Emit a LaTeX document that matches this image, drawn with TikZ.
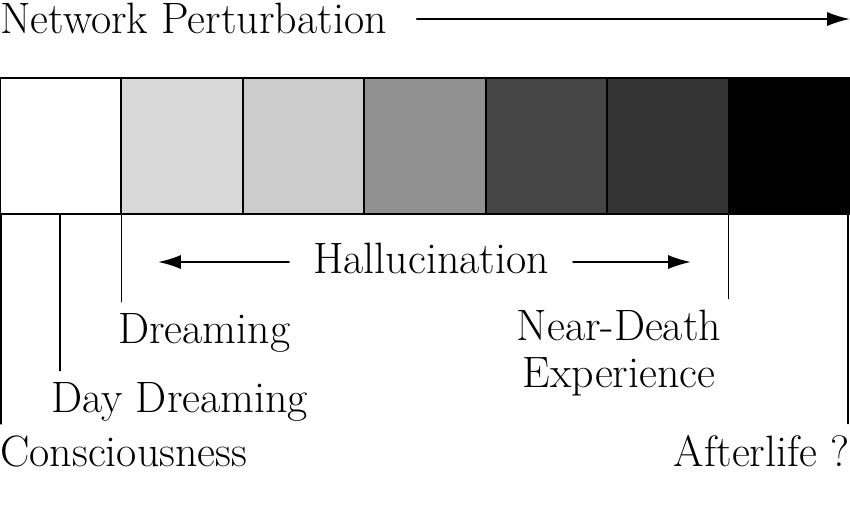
\documentclass[tikz,border=0pt]{standalone}
\usetikzlibrary{arrows.meta}
\definecolor{shadeA}{gray}{0.85}
\definecolor{shadeB}{gray}{0.80}
\definecolor{shadeC}{gray}{0.57}
\definecolor{shadeD}{gray}{0.27}
\definecolor{shadeE}{gray}{0.20}
\begin{document}
\begin{tikzpicture}[x=0.02cm, y=-0.02cm, line join=round, line cap=round,
    lbl/.style={inner sep=0pt, font=\fontsize{25}{26.6}\selectfont},
    arr/.style={line width=1.1pt, -{Latex[length=13pt, width=8pt]}},
    lead/.style={line width=0.8pt, shorten >=0.22cm}]
  \useasboundingbox (0,0) rectangle (850,512);
  \def\W{121.43}
  % shaded states
  \foreach \s [count=\i from 0] in {white, shadeA, shadeB, shadeC, shadeD, shadeE, black}
    \filldraw[fill=\s, line width=1.1pt] (\i*\W,78) rectangle ++(\W,136);
  \coordinate (k0) at (1,214); \coordinate (k1) at (60,214); \coordinate (k2) at (\W,214);
  \coordinate (k6) at (6*\W,214); \coordinate (k7) at (848,214);
  \coordinate (pend) at (850,19);
  \coordinate (hl) at (158,262); \coordinate (hr) at (691,262);
  % labels
  \node[lbl, anchor=base west] (netp) at (0,33) {Network Perturbation};
  \node[lbl, anchor=base] (hall) at (431,273) {Hallucination};
  \node[lbl, anchor=base west] (dream) at (118,343) {Dreaming};
  \node[lbl, anchor=base west] (daydr) at (51,412) {Day Dreaming};
  \node[lbl, anchor=base west] (cons) at (0,466) {Consciousness};
  \node[lbl, anchor=base, align=center] (neard) at (619,387) {Near-Death\\Experience};
  \node[lbl, anchor=base east] (after) at (850,466) {Afterlife ?};
  % arrows
  \draw[arr, shorten <=0.6cm] (netp.east |- pend) -- (pend);
  \draw[arr, shorten <=0.48cm] (hall.west |- hl) -- (hl);
  \draw[arr, shorten <=0.48cm] (hall.east |- hr) -- (hr);
  % leaders
  \draw[lead] (k0) -- (k0 |- cons.north);
  \draw[lead] (k1) -- (k1 |- daydr.north);
  \draw[lead] (k2) -- (k2 |- dream.north);
  \draw[lead] (k6) -- (k6 |- neard.north);
  \draw[lead] (k7) -- (k7 |- after.north);
\end{tikzpicture}
\end{document}
